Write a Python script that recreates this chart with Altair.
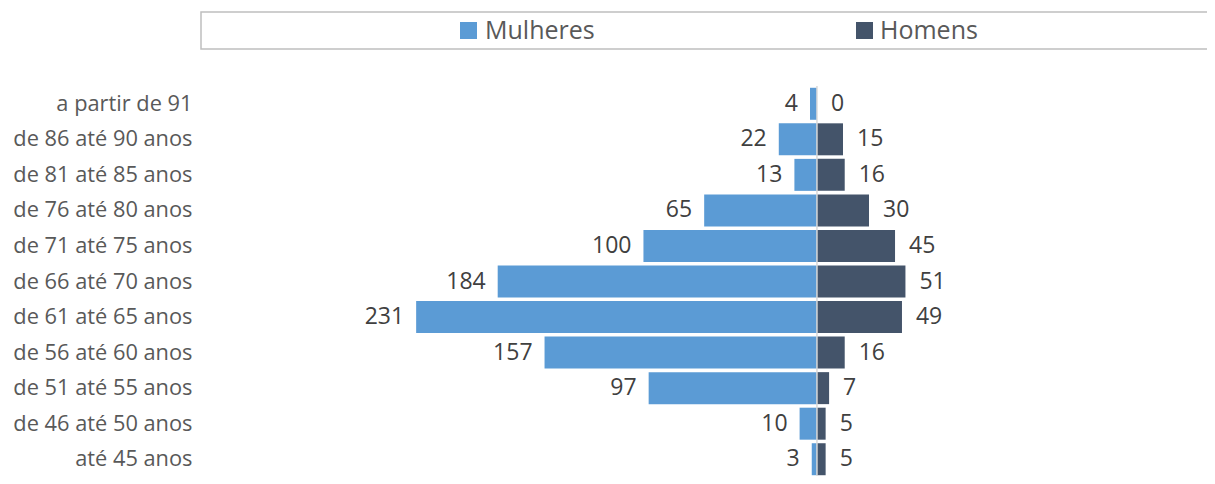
import altair as alt
import pandas as pd

categories = ["a partir de 91", "de 86 até 90 anos", "de 81 até 85 anos", "de 76 até 80 anos",
              "de 71 até 75 anos", "de 66 até 70 anos", "de 61 até 65 anos", "de 56 até 60 anos",
              "de 51 até 55 anos", "de 46 até 50 anos", "até 45 anos"]
mulheres = [4, 22, 13, 65, 100, 184, 231, 157, 97, 10, 3]
homens = [0, 15, 16, 30, 45, 51, 49, 16, 7, 5, 5]
series = ["Mulheres", "Homens"]
colors = ["#5B9BD5", "#44546A"]

rows = []
for c, w, m in zip(categories, mulheres, homens):
    rows.append({"cat": c, "sexo": "Mulheres", "valor": w, "pos": -w})
    rows.append({"cat": c, "sexo": "Homens", "valor": m, "pos": m})
df = pd.DataFrame(rows)

W, H = 1006, 390
FONT = "Open Sans"
TXT = "#595959"
DOM = [-355, 224.8]

x = alt.X("pos:Q", scale=alt.Scale(domain=DOM, nice=False, zero=False), axis=None)
y = alt.Y("cat:N", sort=categories,
          scale=alt.Scale(range=[0, 391], paddingInner=0.1, paddingOuter=0.05),
          axis=alt.Axis(title=None, domain=False, ticks=False, labelPadding=9,
                        labelFont=FONT, labelFontSize=21.8, labelColor=TXT, labelLimit=400))
color = alt.Color("sexo:N", scale=alt.Scale(domain=series, range=colors), legend=None)

base = alt.Chart(df)
bars = base.mark_bar(clip=False).encode(x=x, y=y, color=color)

left_text = base.transform_filter(alt.datum.sexo == "Mulheres").mark_text(
    align="right", baseline="middle", dx=-12, font=FONT, fontSize=23, color="#404040"
).encode(x=x, y=y, text="valor:Q")
right_text = base.transform_filter(alt.datum.sexo == "Homens").mark_text(
    align="left", baseline="middle", dx=14, font=FONT, fontSize=23, color="#404040"
).encode(x=x, y=y, text="valor:Q")

center = alt.Chart(pd.DataFrame({"z": [0]})).mark_rule(color="#D9D9D9", strokeWidth=1.5).encode(
    x=alt.X("z:Q", scale=alt.Scale(domain=DOM, nice=False, zero=False), axis=None),
    y=alt.value(0), y2=alt.value(420))

leg_df = pd.DataFrame({"n": [0]})
box = alt.Chart(leg_df).mark_rect(fill="white", stroke="#BFBFBF", strokeWidth=1.5).encode(
    x=alt.value(0), x2=alt.value(1030), y=alt.value(-74), y2=alt.value(-37))
sym1 = alt.Chart(leg_df).mark_square(size=289, color=colors[0], opacity=1).encode(
    x=alt.value(267.5), y=alt.value(-55.5))
sym2 = alt.Chart(leg_df).mark_square(size=289, color=colors[1], opacity=1).encode(
    x=alt.value(663.5), y=alt.value(-55.5))
t1 = alt.Chart(leg_df).mark_text(text=series[0], align="left", baseline="middle", font=FONT,
                                 fontSize=25, color=TXT).encode(x=alt.value(284), y=alt.value(-55))
t2 = alt.Chart(leg_df).mark_text(text=series[1], align="left", baseline="middle", font=FONT,
                                 fontSize=25, color=TXT).encode(x=alt.value(679), y=alt.value(-55))

chart = alt.layer(bars, left_text, right_text, center, box, sym1, sym2, t1, t2).properties(
    width=W, height=H,
    background="white",
    autosize=alt.AutoSizeParams(type="none"),
    padding={"left": 193, "top": 78, "right": 0, "bottom": 0},
).configure_view(stroke=None, strokeWidth=0)

chart.save("out.html", embed_options={"renderer": "svg", "actions": False})
